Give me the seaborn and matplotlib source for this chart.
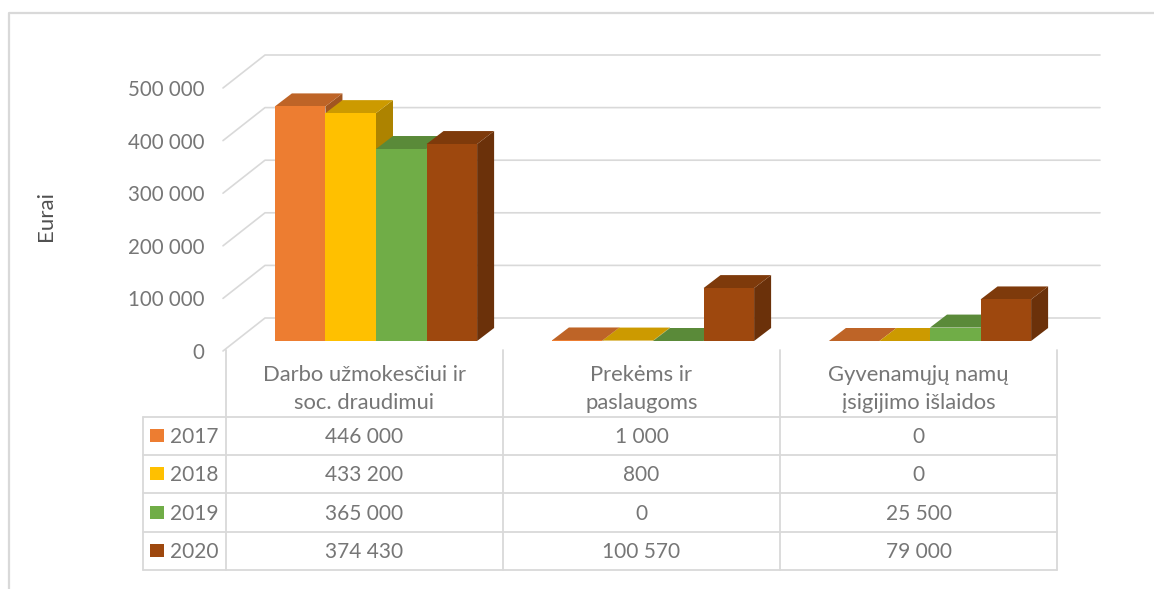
import matplotlib
matplotlib.use('Agg')
import matplotlib.pyplot as plt
from matplotlib.patches import Polygon, Rectangle
from matplotlib.transforms import ScaledTranslation
from matplotlib.colors import to_rgb
import pandas as pd
import seaborn as sns

# duomenys
kategorijos = ['Darbo užmokesčiui ir\nsoc. draudimui', 'Prekėms ir\npaslaugoms', 'Gyvenamųjų namų\nįsigijimo išlaidos']
metai = ['2017', '2018', '2019', '2020']
v2017 = [446000, 1000, 0]
v2018 = [433200, 800, 0]
v2019 = [365000, 0, 25500]
v2020 = [374430, 100570, 79000]
reiksmes = [v2017, v2018, v2019, v2020]
y_ticks = [0, 100000, 200000, 300000, 400000, 500000]
spalvos = ['#ED7D31', '#FFC000', '#70AD47', '#9E480E']

PILKA = '#d9d9d9'
TEKSTAS = '#767676'

sns.set_style('white')
plt.rcParams['font.family'] = ['Lato', 'DejaVu Sans']

W, H = 1154, 589
fig = plt.figure(figsize=(W / 100, H / 100), dpi=100, facecolor='white')

# pagalbine asis lentelei ir remeliui (pikseliais)
lent = fig.add_axes([0, 0, 1, 1], zorder=1)
lent.set_xlim(0, W)
lent.set_ylim(H, 0)
lent.axis('off')

# stulpeliu asis: priekine plokstuma
kair, des, apac, virs = 237.5, 1068.5, 341, 78
ax = fig.add_axes([kair / W, 1 - apac / H, (des - kair) / W, (apac - virs) / H], zorder=2)
ax.patch.set_alpha(0)

df = pd.DataFrame({
    'kategorija': [k for _ in metai for k in kategorijos],
    'metai': [m for m in metai for _ in kategorijos],
    'reiksme': [r for eil in reiksmes for r in eil],
})
sns.barplot(data=df, x='kategorija', y='reiksme', hue='metai', hue_order=metai, palette=spalvos,
            width=0.73, gap=0, saturation=1, legend=False, linewidth=0, ax=ax)
ax.set_xlim(-0.5, 2.5)
ax.set_ylim(0, 500000)
sns.despine(ax=ax, left=True, bottom=True)
ax.set_xlabel('')
ax.set_ylabel('')
ax.set_xticks([])

px_x = 277
px_y = (apac - virs) / 500000


def dx(p):
    return p / px_x


def dy(p):
    return p / px_y


# galine siena ir istrizos linijos
x_front = -0.5 + dx(223 - kair)
x_back = -0.5 + dx(265 - kair)
x_end = -0.5 + dx(1100 - kair)
for t in y_ticks:
    ax.plot([x_front, x_back, x_end], [t - dy(10), t + dy(23), t + dy(23)], color=PILKA, lw=1.2,
            clip_on=False, zorder=0.5)

# 3D sonai ir virsunes
gylis_x, gylis_y = dx(17), dy(13)
z = 3
for cont, sp in zip(ax.containers, spalvos):
    rgb = to_rgb(sp)
    virsus = tuple(c * 0.8 for c in rgb)
    sonas = tuple(c * 0.68 for c in rgb)
    for p in cont.patches:
        x0, x1, h = p.get_x(), p.get_x() + p.get_width(), p.get_height()
        ax.add_patch(Polygon([(x1, 0), (x1 + gylis_x, gylis_y), (x1 + gylis_x, h + gylis_y), (x1, h)],
                             facecolor=sonas, edgecolor='none', clip_on=False, zorder=z))
        ax.add_patch(Polygon([(x0, h), (x0 + gylis_x, h + gylis_y), (x1 + gylis_x, h + gylis_y), (x1, h)],
                             facecolor=virsus, edgecolor='none', clip_on=False, zorder=z))
        p.set_zorder(z + 0.5)
        p.set_clip_on(False)
    z += 1

# y asies zymes
ax.set_yticks(y_ticks)
ax.set_yticklabels([f'{t:,}'.replace(',', ' ') for t in y_ticks], color=TEKSTAS, fontsize=14.8)
ax.tick_params(axis='y', length=0, pad=24)
poslinkis = ScaledTranslation(0, -10 / 100, fig.dpi_scale_trans)
for l in ax.get_yticklabels():
    l.set_transform(l.get_transform() + poslinkis)

lent.text(46, 216, 'Eurai', rotation=90, ha='center', va='center', fontsize=16, color='#505050')

# remelis
lent.plot([9, 9, W], [H, 13, 13], color=PILKA, lw=1.6)

# lentele
stulpeliai = [226, 503, 780, 1057]
eilutes = [417, 455, 493, 532, 570]
for x in stulpeliai:
    lent.plot([x, x], [350, eilutes[-1]], color=PILKA, lw=1.3)
lent.plot([143, 143], [eilutes[0], eilutes[-1]], color=PILKA, lw=1.3)
for y in eilutes:
    lent.plot([143, stulpeliai[-1]], [y, y], color=PILKA, lw=1.3)

for i, k in enumerate(kategorijos):
    xc = (stulpeliai[i] + stulpeliai[i + 1]) / 2
    lent.text(xc, 389, k, ha='center', va='center', fontsize=15.8, color=TEKSTAS, linespacing=1.55)
    for j in range(len(metai)):
        yc = (eilutes[j] + eilutes[j + 1]) / 2
        lent.text(xc, yc + 1, f'{reiksmes[j][i]:,}'.replace(',', ' '), ha='center', va='center',
                  fontsize=15, color=TEKSTAS)

for j, m in enumerate(metai):
    yc = (eilutes[j] + eilutes[j + 1]) / 2
    lent.add_patch(Rectangle((150, yc - 7), 14, 13, facecolor=spalvos[j], edgecolor='none'))
    lent.text(170, yc + 1, m, ha='left', va='center', fontsize=15, color=TEKSTAS)

fig.savefig('out.png', dpi=100)
